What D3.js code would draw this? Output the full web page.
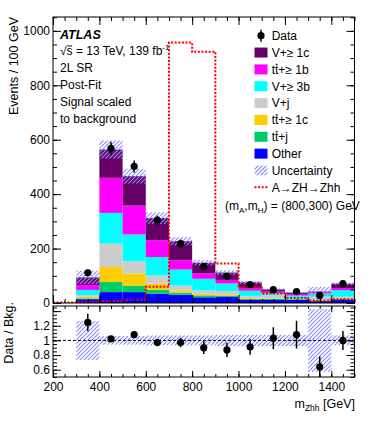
<!DOCTYPE html>
<html>
<head>
<meta charset="utf-8">
<script src="https://cdn.jsdelivr.net/npm/d3@7"></script>
<style>
  body { margin: 0; background: #fff; }
  svg { display: block; font-family: "Liberation Sans", Arial, sans-serif; }
</style>
</head>
<body>
<svg id="chart" width="374" height="421"></svg>
<script>
// ---- data ----
const edges   = [300,400,500,600,700,800,900,1000,1100,1200,1300,1400,1500];
const other   = [14, 40, 40, 34, 30, 21, 22, 12, 11, 11,  7, 12];
const ttj     = [ 3, 37, 24, 15,  8,  7,  5,  3,  4,  3,  2,  3];
const ttc     = [ 6, 55, 44, 22,  8,  6,  5,  4,  2,  1,  2,  3];
const vj      = [ 6, 86, 45, 30, 18, 12, 12,  7, 12,  2, 12,  5];
const v3b     = [19,113, 99, 68, 59, 43, 28, 19,  7, 10, 12, 24];
const ttb     = [18,129,106, 61, 34, 20, 13,  9,  6,  5,  3,  8];
const v1c     = [28,104,108, 82, 70, 39, 27, 22,  8,  6,  4, 16];
const bandErr = [0.27,0.06,0.06,0.07,0.07,0.07,0.08,0.08,0.08,0.08,0.43,0.07];

const dataVal = [111,568,502,304,218,134, 98, 68, 49, 42, 28, 71];
const dataErr = [ 11, 24, 22, 17, 15, 12, 10,  8,  7,  7,  5,  8];
const ratioVal = [1.245,1.02,1.08,0.97,0.97,0.90,0.87,0.91,1.03,1.08,0.64,1.00];
const ratioErr = [0.12,0.04,0.045,0.05,0.065,0.087,0.097,0.105,0.15,0.19,0.14,0.13];

const sigEdges = [200,300,400,500,600,700,800,900,1000,1100,1200,1300,1400,1500];
const signal   = [2, 4, 6, 12, 60, 957, 923, 145, 57, 35, 18, 9, 14];

const keys   = ['other','ttj','ttc','vj','v3b','ttb','v1c'];
const colors = {other:'#0000ff', ttj:'#00cc66', ttc:'#ffcc00', vj:'#cccccc',
                v3b:'#00ffff', ttb:'#ff00ff', v1c:'#660066'};
const legendLabels = [
  {key:'v1c', text:'V+\u2265 1c', bar:null},
  {key:'ttb', text:'tt+\u2265 1b', bar:1},
  {key:'v3b', text:'V+\u2265 3b', bar:null},
  {key:'vj',  text:'V+j', bar:null},
  {key:'ttc', text:'tt+\u2265 1c', bar:1},
  {key:'ttj', text:'tt+j', bar:1},
  {key:'other', text:'Other', bar:null}
];
const yTicks  = [0,200,400,600,800,1000];
const xTicks  = [200,400,600,800,1000,1200,1400];
const rTicks  = [0.6,0.8,1.0,1.2,1.4];
const rLabels = [0.6,0.8,1.0,1.2];

// ---- layout ----
const L = 53, R = 354.5, T = 17, B = 303, RT = 306, RB = 377;
const FONT = '"Liberation Sans", Arial, sans-serif';
const HATCH = '#8c8cff';
const svg = d3.select('#chart');

const x  = d3.scaleLinear().domain([200,1500]).range([L,R]);
const y  = d3.scaleLinear().domain([0,1051]).range([B,T]);
const yr = d3.scaleLinear().domain([0.5,1.47]).range([RB,RT]);

const defs = svg.append('defs');
defs.append('clipPath').attr('id','clipMain')
  .append('rect').attr('x',L).attr('y',T).attr('width',R-L).attr('height',B-T);
defs.append('clipPath').attr('id','clipRatio')
  .append('rect').attr('x',L).attr('y',RT).attr('width',R-L).attr('height',RB-RT);

// hatched box: diagonal "/" lines clipped to the box
let hid = 0;
function hatchBox(parent, x0, y0, w, h) {
  const id = 'hb' + (hid++);
  defs.append('clipPath').attr('id', id)
    .append('rect').attr('x',x0).attr('y',y0).attr('width',w).attr('height',h);
  let d = '';
  const cStart = Math.floor((x0 + y0) / 4) * 4, cEnd = x0 + w + y0 + h;
  for (let c = cStart; c <= cEnd + 4; c += 4) {
    d += `M${c - (y0 + h)},${y0 + h}L${c - y0},${y0}`;
  }
  parent.append('path').attr('d', d).attr('clip-path', `url(#${id})`)
    .attr('fill','none').attr('stroke', HATCH).attr('stroke-width', 1.1);
}

// rows for stacking
const rows = edges.slice(0,-1).map((lo,i) => ({
  lo, hi: edges[i+1],
  other: other[i], ttj: ttj[i], ttc: ttc[i], vj: vj[i],
  v3b: v3b[i], ttb: ttb[i], v1c: v1c[i]
}));
rows.forEach(r => r.total = d3.sum(keys, k => r[k]));
const series = d3.stack().keys(keys)(rows);

const gMain = svg.append('g').attr('clip-path','url(#clipMain)');

// stacked bars
gMain.selectAll('g.layer').data(series).join('g')
  .attr('class','layer').attr('fill', d => colors[d.key])
  .selectAll('rect').data(d => d).join('rect')
    .attr('x', d => x(d.data.lo))
    .attr('width', d => x(d.data.hi) - x(d.data.lo))
    .attr('y', d => y(d[1]))
    .attr('height', d => y(d[0]) - y(d[1]));

// uncertainty band
const gUnc = gMain.append('g');
rows.forEach((r,i) => {
  const top = y(r.total*(1+bandErr[i])), bot = y(r.total*(1-bandErr[i]));
  hatchBox(gUnc, x(r.lo), top, x(r.hi) - x(r.lo), bot - top);
});

// signal (dotted step line)
const sigPts = [];
signal.forEach((v,i) => { sigPts.push([sigEdges[i], v]); sigPts.push([sigEdges[i+1], v]); });
gMain.append('path')
  .attr('d', d3.line().x(d => x(d[0])).y(d => y(d[1]))(sigPts))
  .attr('fill','none').attr('stroke','#ff0000').attr('stroke-width',2)
  .attr('stroke-dasharray','2,1.6');

// data points
const mids = rows.map(r => (r.lo + r.hi)/2);
const gData = svg.append('g');
gData.selectAll('line').data(dataVal).join('line')
  .attr('x1',(d,i)=>x(mids[i])).attr('x2',(d,i)=>x(mids[i]))
  .attr('y1',(d,i)=>y(d-dataErr[i])).attr('y2',(d,i)=>y(d+dataErr[i]))
  .attr('stroke','#000').attr('stroke-width',1.5);
gData.selectAll('circle').data(dataVal).join('circle')
  .attr('cx',(d,i)=>x(mids[i])).attr('cy',d=>y(d)).attr('r',3.6).attr('fill','#000');

// ---- ratio panel ----
const gRatio = svg.append('g').attr('clip-path','url(#clipRatio)');
rows.forEach((r,i) => {
  const top = yr(1+bandErr[i]), bot = yr(1-bandErr[i]);
  hatchBox(gRatio, x(r.lo), top, x(r.hi) - x(r.lo), bot - top);
});
gRatio.append('line')
  .attr('x1',L).attr('x2',R).attr('y1',yr(1)).attr('y2',yr(1))
  .attr('stroke','#000').attr('stroke-dasharray','3,2');
gRatio.selectAll('line.err').data(ratioVal).join('line')
  .attr('class','err')
  .attr('x1',(d,i)=>x(mids[i])).attr('x2',(d,i)=>x(mids[i]))
  .attr('y1',(d,i)=>yr(d-ratioErr[i])).attr('y2',(d,i)=>yr(d+ratioErr[i]))
  .attr('stroke','#000').attr('stroke-width',1.5);
gRatio.selectAll('circle').data(ratioVal).join('circle')
  .attr('cx',(d,i)=>x(mids[i])).attr('cy',d=>yr(d)).attr('r',3.6).attr('fill','#000');

// ---- axes (ROOT style, inward ticks) ----
function styleAxis(g) {
  g.select('.domain').remove();
  g.attr('font-size',12).attr('font-family',FONT);
  g.selectAll('line').attr('stroke','#000');
  g.selectAll('text').attr('fill','#000');
}
function axis(gen, tx, ty) {
  svg.append('g').attr('transform',`translate(${tx},${ty})`).call(gen).call(styleAxis);
}
const none = () => '';
const minorY  = d3.range(0,1051,50);
const minorX  = d3.range(200,1501,50);
const minorR  = d3.range(0.5,1.47,0.05).map(v => +v.toFixed(2));

// main panel
axis(d3.axisLeft(y).tickValues(yTicks).tickSize(-8).tickPadding(3).tickFormat(d3.format('d')), L, 0);
axis(d3.axisLeft(y).tickValues(minorY).tickSize(-4).tickFormat(none), L, 0);
axis(d3.axisRight(y).tickValues(yTicks).tickSize(-8).tickFormat(none), R, 0);
axis(d3.axisRight(y).tickValues(minorY).tickSize(-4).tickFormat(none), R, 0);
axis(d3.axisTop(x).tickValues(xTicks).tickSize(-8).tickFormat(none), 0, T);
axis(d3.axisTop(x).tickValues(minorX).tickSize(-4).tickFormat(none), 0, T);
axis(d3.axisBottom(x).tickValues(xTicks).tickSize(-8).tickFormat(none), 0, B);
axis(d3.axisBottom(x).tickValues(minorX).tickSize(-4).tickFormat(none), 0, B);

// ratio panel
axis(d3.axisLeft(yr).tickValues(rLabels).tickSize(0).tickPadding(3)
  .tickFormat(d => d === 1 ? '1' : d3.format('.1f')(d)), L, 0);
axis(d3.axisLeft(yr).tickValues(rTicks).tickSize(-8).tickFormat(none), L, 0);
axis(d3.axisLeft(yr).tickValues(minorR).tickSize(-4).tickFormat(none), L, 0);
axis(d3.axisRight(yr).tickValues(rTicks).tickSize(-8).tickFormat(none), R, 0);
axis(d3.axisRight(yr).tickValues(minorR).tickSize(-4).tickFormat(none), R, 0);
axis(d3.axisBottom(x).tickValues(xTicks).tickSize(-6).tickPadding(5.5).tickFormat(d3.format('d')), 0, RB);
axis(d3.axisBottom(x).tickValues(minorX).tickSize(-3).tickFormat(none), 0, RB);
axis(d3.axisTop(x).tickValues(xTicks).tickSize(-6).tickFormat(none), 0, RT);
axis(d3.axisTop(x).tickValues(minorX).tickSize(-3).tickFormat(none), 0, RT);

// frames
svg.append('rect').attr('x',L).attr('y',T).attr('width',R-L).attr('height',B-T)
  .attr('fill','none').attr('stroke','#000');
svg.append('rect').attr('x',L).attr('y',RT).attr('width',R-L).attr('height',RB-RT)
  .attr('fill','none').attr('stroke','#000');

// ---- texts ----
function overbar(textSel, idx) {
  const node = textSel.node();
  const ext = node.getExtentOfChar(idx);
  svg.append('line')
    .attr('x1', ext.x + 0.6).attr('x2', ext.x + ext.width - 0.4)
    .attr('y1', ext.y + 1.6).attr('y2', ext.y + 1.6)
    .attr('stroke','#000').attr('stroke-width',0.9);
}

svg.append('text').attr('x',60).attr('y',38.5)
  .attr('font-size',12.5).attr('font-weight','bold').attr('font-style','italic')
  .text('ATLAS');
const rs = svg.append('text').attr('x',60).attr('y',55.3).attr('font-size',12);
rs.append('tspan').text('\u221As = 13 TeV, 139 fb');
rs.append('tspan').attr('dy',-5).attr('font-size',8).text('-1');
overbar(rs, 1);
['2L SR','Post-Fit','Signal scaled','to background'].forEach((t,i) => {
  svg.append('text').attr('x',60).attr('y',72.4 + i*16.9).attr('font-size',12).text(t);
});

// axis titles
svg.append('text').attr('transform','translate(18,17) rotate(-90)')
  .attr('text-anchor','end').attr('font-size',12.5).text('Events / 100 GeV');
svg.append('text').attr('transform','translate(13,302) rotate(-90)')
  .attr('text-anchor','end').attr('font-size',12.5).text('Data / Bkg.');
const xt = svg.append('text').attr('x',355).attr('y',408).attr('text-anchor','end').attr('font-size',12.5);
xt.append('tspan').text('m');
xt.append('tspan').attr('dy',3).attr('font-size',8.5).text('Zhh');
xt.append('tspan').attr('dy',-3).text(' [GeV]');

// ---- legend ----
const LX = 254.5, TX = 271.7, LY0 = 35.7, DY = 16.85;
const gl = svg.append('g').attr('font-size',12);
gl.append('line').attr('x1',LX+6.5).attr('x2',LX+6.5).attr('y1',LY0-6).attr('y2',LY0+6)
  .attr('stroke','#000').attr('stroke-width',1.5);
gl.append('circle').attr('cx',LX+6.5).attr('cy',LY0).attr('r',3.6);
gl.append('text').attr('x',TX).attr('y',LY0+4.3).text('Data');
legendLabels.forEach((d,i) => {
  const cy = LY0 + (i+1)*DY;
  gl.append('rect').attr('x',LX).attr('y',cy-5).attr('width',13).attr('height',10)
    .attr('fill',colors[d.key]);
  const t = gl.append('text').attr('x',TX).attr('y',cy+4.3).text(d.text);
  if (d.bar !== null) overbar(t, d.bar);
});
let cyU = LY0 + 8*DY;
hatchBox(gl, LX, cyU-5, 13, 10);
gl.append('text').attr('x',TX).attr('y',cyU+4.3).text('Uncertainty');
let cyS = LY0 + 9*DY;
gl.append('line').attr('x1',LX).attr('x2',LX+13).attr('y1',cyS).attr('y2',cyS)
  .attr('stroke','#ff0000').attr('stroke-width',2).attr('stroke-dasharray','2,1.6');
gl.append('text').attr('x',TX).attr('y',cyS+4.3).text('A\u2192ZH\u2192Zhh');
const mt = gl.append('text').attr('x',225).attr('y',cyS+DY+5.3);
mt.append('tspan').text('(m');
mt.append('tspan').attr('dy',3).attr('font-size',8).text('A');
mt.append('tspan').attr('dy',-3).text(',m');
mt.append('tspan').attr('dy',3).attr('font-size',8).text('H');
mt.append('tspan').attr('dy',-3).text(') = (800,300) GeV');
</script>
</body>
</html>
